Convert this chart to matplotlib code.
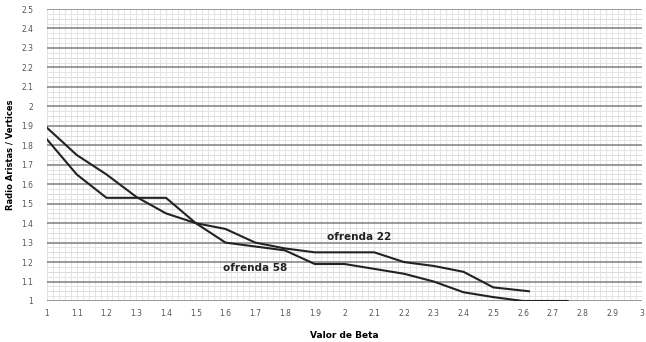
import matplotlib
matplotlib.use("Agg")
import matplotlib.pyplot as plt
import numpy as np
from matplotlib.ticker import MultipleLocator, FuncFormatter

# Data
beta_22 = [1.0, 1.1, 1.2, 1.3, 1.4, 1.5, 1.6, 1.7, 1.8, 1.9, 2.0, 2.1, 2.2, 2.3, 2.4, 2.5, 2.62]
ratio_22 = [1.89, 1.75, 1.65, 1.535, 1.45, 1.40, 1.37, 1.30, 1.27, 1.25, 1.25, 1.25, 1.20, 1.18, 1.15, 1.07, 1.05]

beta_58 = [1.0, 1.1, 1.2, 1.3, 1.4, 1.5, 1.6, 1.7, 1.8, 1.9, 2.0, 2.1, 2.2, 2.3, 2.4, 2.5, 2.6, 2.75]
ratio_58 = [1.83, 1.65, 1.53, 1.53, 1.53, 1.40, 1.30, 1.28, 1.26, 1.19, 1.19, 1.165, 1.14, 1.10, 1.045, 1.02, 1.0, 1.0]

fig = plt.figure(figsize=(6.46, 3.42), dpi=100)
ax = fig.add_axes([47/646, 1-301/342, (642-47)/646, (301-9)/342])

ax.set_xlim(1, 3)
ax.set_ylim(1, 2.5)

ax.xaxis.set_major_locator(MultipleLocator(0.1))
ax.xaxis.set_minor_locator(MultipleLocator(0.02))
ax.yaxis.set_major_locator(MultipleLocator(0.1))
ax.yaxis.set_minor_locator(MultipleLocator(0.025))
fmt = FuncFormatter(lambda v, p: f"{v:.1f}".rstrip('0').rstrip('.'))
ax.xaxis.set_major_formatter(fmt)
ax.yaxis.set_major_formatter(fmt)

ax.grid(which='minor', axis='both', color='#e0e0e0', linewidth=0.6)
ax.grid(which='major', axis='x', color='#e0e0e0', linewidth=0.6)
ax.grid(which='major', axis='y', color='#7f7f7f', linewidth=1.1)
# mid lines at 0.05
for v in np.arange(1.05, 2.5, 0.1):
    ax.axhline(v, color='#c4c4c4', linewidth=0.7, zorder=0.5)
ax.set_axisbelow(True)

for s in ax.spines.values():
    s.set_visible(False)
ax.tick_params(which='both', length=0, labelsize=5.5, labelcolor='#555555')
ax.tick_params(axis='x', pad=6)
ax.tick_params(axis='y', pad=10)

ax.plot(beta_22, ratio_22, color='#222222', linewidth=1.5, zorder=3)
ax.plot(beta_58, ratio_58, color='#222222', linewidth=1.5, zorder=3)

ax.text(2.05, 1.33, 'ofrenda 22', fontsize=7.5, fontweight='bold', color='#222222', ha='center', va='center')
ax.text(1.7, 1.17, 'ofrenda 58', fontsize=7.5, fontweight='bold', color='#222222', ha='center', va='center')

ax.set_xlabel('Valor de Beta', fontsize=6.5, fontweight='bold', labelpad=9)
ax.set_ylabel('Radio Aristas / Vertices', fontsize=6, fontweight='bold')
ax.yaxis.set_label_coords(-0.055, 0.5)

fig.savefig('out.png', dpi=100)
